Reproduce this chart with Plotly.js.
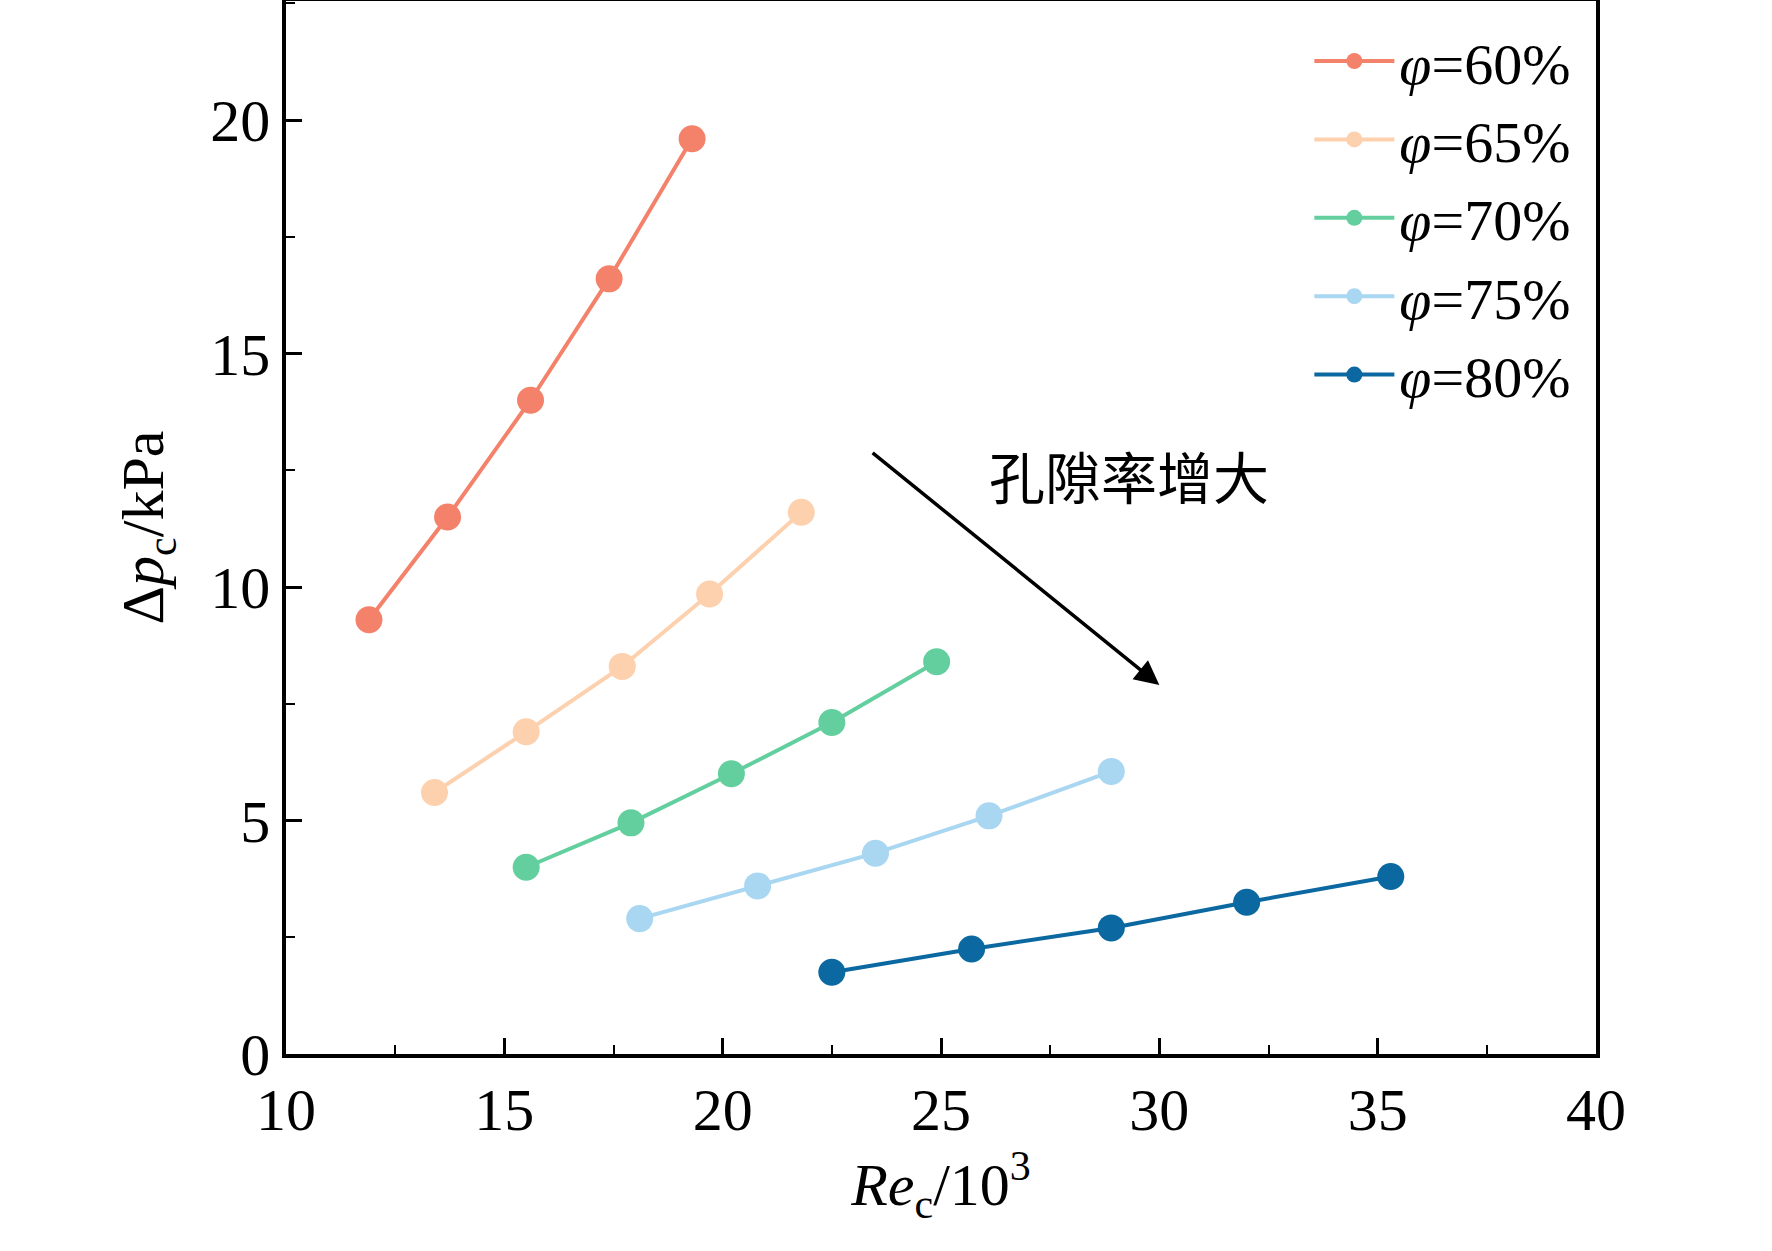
<!DOCTYPE html>
<html><head><meta charset="utf-8">
<script src="https://cdn.plot.ly/plotly-3.0.1.min.js"></script>
<style>body{margin:0;background:#fff}</style>
</head><body><div id="chart" style="width:1772px;height:1251px"></div>
<script>
var names = ['φ=60%', 'φ=65%', 'φ=70%', 'φ=75%', 'φ=80%'];
var colors = ['#f4826b', '#fdd0ae', '#63cf9f', '#a9d6f1', '#0b68a0'];
var re60 = [11.9, 13.7, 15.6, 17.4, 19.3], dp60 = [9.3, 11.5, 14.0, 16.6, 19.6];
var re65 = [13.4, 15.5, 17.7, 19.7, 21.8], dp65 = [5.6, 6.9, 8.3, 9.85, 11.6];
var re70 = [15.5, 17.9, 20.2, 22.5, 24.9], dp70 = [4.0, 4.95, 6.0, 7.1, 8.4];
var re75 = [18.1, 20.8, 23.5, 26.1, 28.9], dp75 = [2.9, 3.6, 4.3, 5.1, 6.05];
var re80 = [22.5, 25.7, 28.9, 32.0, 35.3], dp80 = [1.75, 2.25, 2.7, 3.25, 3.8];
var xs = [re60, re65, re70, re75, re80], ys = [dp60, dp65, dp70, dp75, dp80];

var font = 'Liberation Serif, Times New Roman, serif';
var data = xs.map(function(x, i){
    return {
        x: x, y: ys[i], type: 'scatter', mode: 'lines+markers',
        name: '<i>φ</i>=' + names[i].slice(2),
        line: {color: colors[i], width: 4},
        marker: {color: colors[i], size: 27}
    };
});
var axisBase = {
    showline: true, linecolor: '#000', linewidth: 3.5, mirror: true,
    ticks: 'inside', ticklen: 16, tickwidth: 2.5, tickcolor: '#000',
    showgrid: false, zeroline: false,
    tickfont: {family: font, size: 60, color: '#000'}
};
var layout = {
    width: 1772, height: 1251,
    margin: {l: 286, r: 176, t: 1, b: 197},
    plot_bgcolor: '#fff', paper_bgcolor: '#fff',
    showlegend: true,
    legend: {x: 0.985, y: 0.985, xanchor: 'right', yanchor: 'top',
             font: {family: font, size: 58, color: '#000'}, bgcolor: 'rgba(0,0,0,0)',
             tracegroupgap: 0, itemwidth: 80},
    xaxis: Object.assign({}, axisBase, {
        range: [10, 40], dtick: 5,
        minor: {ticks: 'inside', ticklen: 9, dtick: 2.5, tickwidth: 2, tickcolor: '#000'},
        title: {text: '<i>Re</i><sub>c</sub>/10<sup>3</sup>', font: {family: font, size: 60, color: '#000'}, standoff: 20}
    }),
    yaxis: Object.assign({}, axisBase, {
        range: [0, 22.55], dtick: 5,
        minor: {ticks: 'inside', ticklen: 9, dtick: 2.5, tickwidth: 2, tickcolor: '#000'},
        title: {text: 'Δ<i>p</i><sub>c</sub>/kPa', font: {family: font, size: 60, color: '#000'}, standoff: 28}
    }),
    annotations: [
        {x: 30, y: 7.9, ax: 23.4, ay: 12.9, axref: 'x', ayref: 'y', xref: 'x', yref: 'y',
         showarrow: true, arrowhead: 2, arrowsize: 1.4, arrowwidth: 3.5, arrowcolor: '#000', text: ''},
        {x: 29.3, y: 12.4, xref: 'x', yref: 'y', showarrow: false, text: '孔隙率增大',
         font: {family: 'Noto Sans CJK SC', size: 56, color: '#000'}}
    ]
};
Plotly.newPlot('chart', data, layout, {displayModeBar: false});
</script></body></html>
